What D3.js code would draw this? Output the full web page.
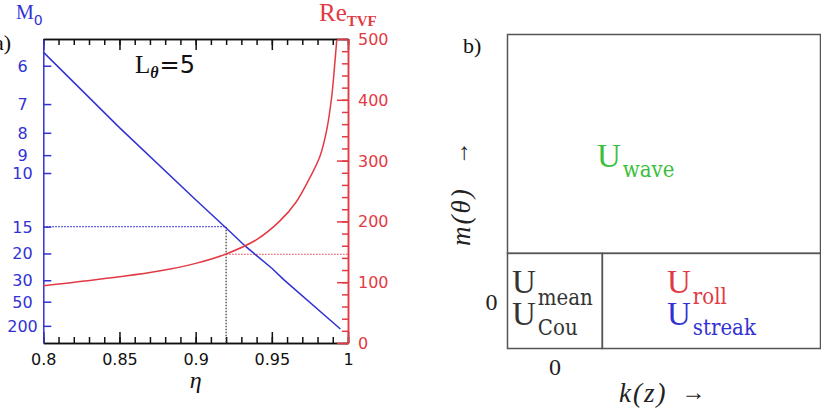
<!DOCTYPE html>
<html>
<head>
<meta charset="utf-8">
<script src="https://cdn.jsdelivr.net/npm/d3@7"></script>
<style>
  body { margin: 0; background: #fff; }
  svg { display: block; }
</style>
</head>
<body>
<div id="chart"></div>
<script>
// Values
const etaBlue = [0.8, 0.85, 0.9, 0.92, 0.933, 0.95, 0.958, 0.995];
const m0Blue = [5.71, 7.8, 12.0, 15.2, 18.45, 24.5, 29.8, 330];
const etaRed = [0.8, 0.85, 0.875, 0.9, 0.92, 0.94, 0.955, 0.966, 0.975, 0.9816, 0.986, 0.9893, 0.991, 0.9926];
const reRed = [94, 109, 118, 131, 146.5, 170, 200, 232, 272, 307, 350, 405, 450, 498];
const etaTicks = [0.8, 0.85, 0.9, 0.95, 1];
const m0Ticks = [6, 7, 8, 9, 10, 15, 20, 30, 50, 200];
const reTicks = [0, 100, 200, 300, 400, 500];
const etaMark = 0.92, m0Mark = 15, reMark = 146;

// Schematic of panel b): cells in (k, m) space
const cells = [
  { k0: -0.5, k1: 0.5, m0: -0.5, m1: 0.5 },
  { k0: 0.5, k1: 2.8, m0: -0.5, m1: 0.5 },
  { k0: -0.5, k1: 2.8, m0: 0.5, m1: 2.8 }
];

const blue = "#3232d4";
const red = "#e23a44";
const green = "#3cbf3c";
const sans = "'DejaVu Sans', Verdana, sans-serif";
const serif = "'Liberation Serif', 'Times New Roman', serif";
const slab = "'DejaVu Serif Condensed', 'DejaVu Serif', serif";

const svg = d3.select("#chart")
  .append("svg")
  .attr("width", 821)
  .attr("height", 416);

// ---------- panel a) ----------
const x = d3.scaleLinear().domain([0.8, 1]).range([43.3, 348]);
const yRe = d3.scaleLinear().domain([0, 500]).range([343, 39]);
// left axis is linear in 1/M0
const yInv = d3.scaleLinear().domain([-0.00566, 0.1833]).range([343, 39]);
const yM = m => yInv(1 / m);

const minorEta = d3.range(0.8, 1.0001, 0.01);
const minorRe = d3.range(0, 501, 20);

// bottom axis, ticks pointing in
const bottomAxis = svg.append("g").attr("transform", "translate(0,343)");
bottomAxis.append("g").call(d3.axisTop(x).tickValues(minorEta).tickSize(6).tickSizeOuter(0).tickFormat(""));
bottomAxis.append("g").call(d3.axisTop(x).tickValues(etaTicks).tickSize(11).tickSizeOuter(0).tickFormat(""));

// top axis
const topAxis = svg.append("g").attr("transform", "translate(0,39)");
topAxis.append("g").call(d3.axisBottom(x).tickValues(minorEta).tickSize(6).tickSizeOuter(0).tickFormat(""));
topAxis.append("g").call(d3.axisBottom(x).tickValues(etaTicks).tickSize(11).tickSizeOuter(0).tickFormat(""));

svg.selectAll(".domain, .tick line").attr("stroke", "#111").attr("stroke-width", 1.5);

bottomAxis.append("g")
  .call(d3.axisBottom(x).tickValues(etaTicks).tickSize(0).tickPadding(10.5).tickFormat(d3.format("")))
  .call(g => g.select(".domain").remove())
  .selectAll("text")
  .style("font-family", sans)
  .style("font-size", "16px")
  .attr("fill", "#111");

// left axis (M0)
const leftAxis = svg.append("g").attr("transform", "translate(43.3,0)");
leftAxis.call(d3.axisRight(yInv).tickValues(m0Ticks.map(m => 1 / m)).tickSize(8).tickSizeOuter(0).tickFormat(""));
leftAxis.selectAll(".domain, .tick line").attr("stroke", blue).attr("stroke-width", 1.5);

svg.append("g")
  .selectAll("text")
  .data(m0Ticks)
  .enter()
  .append("text")
  .attr("x", 22.5)
  .attr("y", d => yM(d) + 6)
  .attr("text-anchor", "middle")
  .style("font-family", sans)
  .style("font-size", "16px")
  .attr("fill", blue)
  .text(d => d);

// right axis (Re_TVF)
const rightAxis = svg.append("g").attr("transform", "translate(348,0)");
rightAxis.append("g").call(d3.axisLeft(yRe).tickValues(minorRe).tickSize(6).tickSizeOuter(0).tickFormat(""));
rightAxis.append("g").call(d3.axisLeft(yRe).tickValues(reTicks).tickSize(11).tickSizeOuter(0).tickFormat(""));
rightAxis.selectAll(".domain, .tick line").attr("stroke", red).attr("stroke-width", 1.5);

svg.append("g")
  .selectAll("text")
  .data(reTicks)
  .enter()
  .append("text")
  .attr("x", 358)
  .attr("y", d => yRe(d) + 6)
  .style("font-family", sans)
  .style("font-size", "16px")
  .attr("fill", red)
  .text(d => d);

// dotted guide lines at eta = 0.92
svg.append("line")
  .attr("x1", x(0.8)).attr("x2", x(etaMark))
  .attr("y1", yM(m0Mark)).attr("y2", yM(m0Mark))
  .attr("stroke", blue).attr("stroke-width", 1.2).attr("stroke-dasharray", "1.5,1.5");
svg.append("line")
  .attr("x1", x(etaMark)).attr("x2", x(etaMark))
  .attr("y1", yM(m0Mark)).attr("y2", yRe(0))
  .attr("stroke", "#333").attr("stroke-width", 1.2).attr("stroke-dasharray", "1.5,1.5");
svg.append("line")
  .attr("x1", x(etaMark)).attr("x2", x(1))
  .attr("y1", yRe(reMark)).attr("y2", yRe(reMark))
  .attr("stroke", red).attr("stroke-width", 1.2).attr("stroke-dasharray", "1.5,1.5");

// curves
const blueLine = d3.line().x(d => x(d[0])).y(d => yM(d[1]));
svg.append("path")
  .attr("d", blueLine(d3.zip(etaBlue, m0Blue)))
  .attr("fill", "none")
  .attr("stroke", blue)
  .attr("stroke-width", 1.5);

const redLine = d3.line().x(d => x(d[0])).y(d => yRe(d[1])).curve(d3.curveCatmullRom);
svg.append("path")
  .attr("d", redLine(d3.zip(etaRed, reRed)))
  .attr("fill", "none")
  .attr("stroke", red)
  .attr("stroke-width", 1.5);

// titles of panel a)
const mTitle = svg.append("text").attr("x", 16).attr("y", 19).attr("fill", blue);
mTitle.append("tspan").style("font-family", serif).style("font-size", "20px").text("M");
mTitle.append("tspan").attr("dy", 6).style("font-family", sans).style("font-size", "14px").text("0");

const reTitle = svg.append("text").attr("x", 319).attr("y", 21).attr("fill", red);
reTitle.append("tspan").style("font-family", serif).style("font-size", "25px").text("Re");
reTitle.append("tspan").attr("dy", 5).style("font-family", serif).style("font-size", "15px").style("font-weight", "bold").text("TVF");

const lTitle = svg.append("text").attr("x", 135).attr("y", 73).attr("fill", "#111");
lTitle.append("tspan").style("font-family", serif).style("font-size", "25px").text("L");
lTitle.append("tspan").attr("dy", 5).style("font-family", serif).style("font-size", "16px")
  .style("font-weight", "bold").style("font-style", "italic").text("θ");
lTitle.append("tspan").attr("dy", -5).attr("dx", 1).style("font-family", sans).style("font-size", "24px").text("=5");

svg.append("text")
  .attr("x", 11).attr("y", 50)
  .attr("text-anchor", "end")
  .style("font-family", serif).style("font-size", "22px")
  .attr("fill", "#111")
  .text("a)");

svg.append("text")
  .attr("x", x(0.9)).attr("y", 388)
  .attr("text-anchor", "middle")
  .style("font-family", serif).style("font-size", "24px").style("font-style", "italic")
  .attr("fill", "#111")
  .text("η");

// ---------- panel b) ----------
const kScale = d3.scaleLinear().domain([-0.5, 2.8]).range([507.5, 820.5]);
const mScale = d3.scaleLinear().domain([-0.5, 2.8]).range([348.5, 34.5]);

svg.append("g")
  .selectAll("rect")
  .data(cells)
  .enter()
  .append("rect")
  .attr("x", d => kScale(d.k0))
  .attr("y", d => mScale(d.m1))
  .attr("width", d => kScale(d.k1) - kScale(d.k0))
  .attr("height", d => mScale(d.m0) - mScale(d.m1))
  .attr("fill", "none")
  .attr("stroke", "#555")
  .attr("stroke-width", 1.5);

svg.append("text")
  .attr("x", 463).attr("y", 53)
  .style("font-family", serif).style("font-size", "22px")
  .attr("fill", "#111")
  .text("b)");

svg.append("text")
  .attr("x", kScale(0)).attr("y", 375)
  .attr("text-anchor", "middle")
  .style("font-family", serif).style("font-size", "24px")
  .attr("fill", "#222")
  .text("0");
svg.append("text")
  .attr("x", 491.5).attr("y", mScale(0) + 9)
  .attr("text-anchor", "middle")
  .style("font-family", serif).style("font-size", "24px")
  .attr("fill", "#222")
  .text("0");

const kLabel = svg.append("text")
  .attr("x", 619).attr("y", 402)
  .style("font-family", serif).style("font-size", "27px").style("font-style", "italic")
  .style("letter-spacing", "2px")
  .attr("fill", "#222");
kLabel.append("tspan").text("k(z)");
kLabel.append("tspan").attr("dx", 14).attr("dy", -2).style("font-style", "normal").style("font-size", "24px").text("→");

const mLabel = svg.append("text")
  .attr("transform", "translate(470,246) rotate(-90)")
  .style("font-family", serif).style("font-size", "27px").style("font-style", "italic")
  .style("letter-spacing", "2px")
  .attr("fill", "#222");
mLabel.append("tspan").text("m(θ)");
mLabel.append("tspan").attr("dx", 22).attr("dy", -2).style("font-style", "normal").style("font-size", "24px").text("→");

// velocity components: one text per stack of U's
function velocity(xPos, yPos, rows) {
  const t = svg.append("text").attr("x", xPos).attr("y", yPos);
  rows.forEach((r, i) => {
    t.append("tspan")
      .attr("x", xPos)
      .attr("y", yPos + i * 32)
      .attr("fill", r.color)
      .style("font-family", serif).style("font-size", "33px")
      .text("U");
    t.append("tspan")
      .attr("dx", 2)
      .attr("dy", r.dy)
      .attr("fill", r.color)
      .style("font-family", slab).style("font-size", "22px")
      .text(r.sub);
  });
}

velocity(597, 167, [{ sub: "wave", dy: 10, color: green }]);
velocity(512, 293, [{ sub: "mean", dy: 12, color: "#333" }, { sub: "Cou", dy: 10, color: "#333" }]);
velocity(667, 293, [{ sub: "roll", dy: 11, color: red }, { sub: "streak", dy: 10, color: blue }]);
</script>
</body>
</html>
